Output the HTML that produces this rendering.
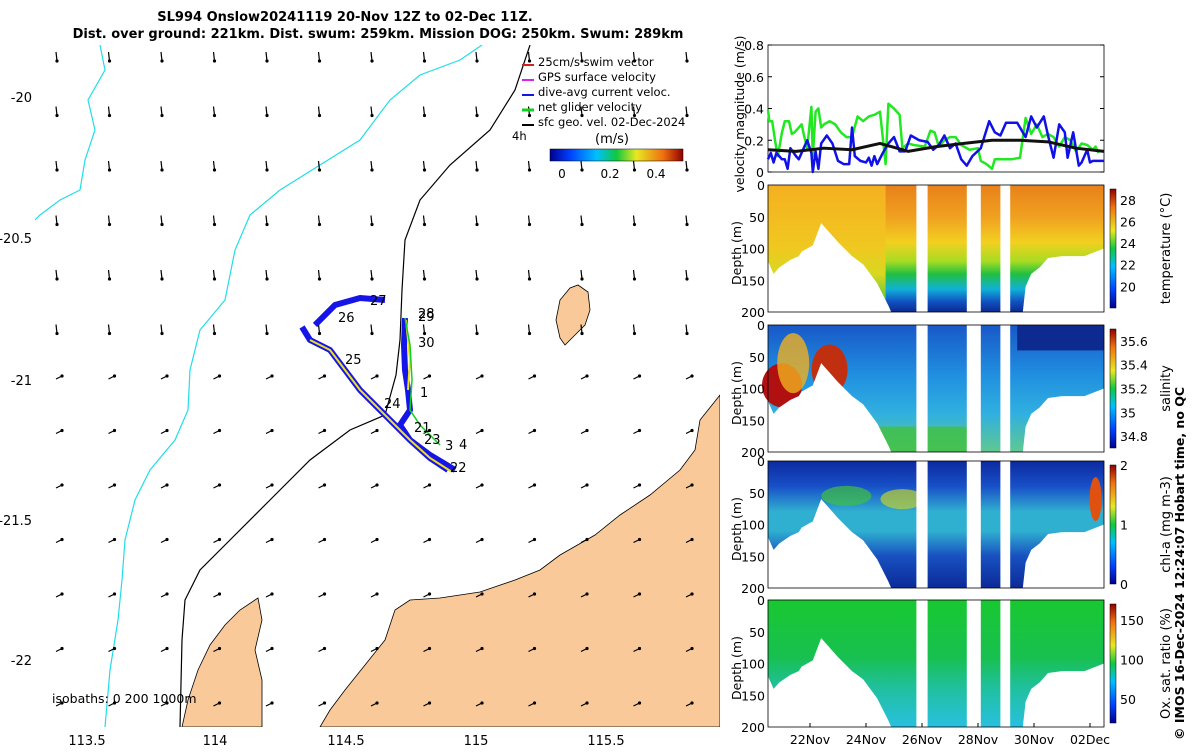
<!DOCTYPE html>
<html><head><meta charset="utf-8"><style>
body{margin:0;background:#fff;font-family:"Liberation Sans",sans-serif}
svg text{font-family:"DejaVu Sans","Liberation Sans",sans-serif}
</style></head><body>
<svg id="s" width="1200" height="750" viewBox="0 0 1200 750" xmlns="http://www.w3.org/2000/svg">
<defs>
<linearGradient id="gT" x1="0" y1="0" x2="0" y2="1"><stop offset="0" stop-color="#e8801a"/><stop offset="0.25" stop-color="#f0a020"/><stop offset="0.45" stop-color="#f2d020"/><stop offset="0.6" stop-color="#a8dc22"/><stop offset="0.7" stop-color="#22c040"/><stop offset="0.82" stop-color="#10b0d8"/><stop offset="0.92" stop-color="#1050c0"/><stop offset="1" stop-color="#0c2a90"/></linearGradient>
<linearGradient id="gTL" x1="0" y1="0" x2="0" y2="1"><stop offset="0" stop-color="#f5b020"/><stop offset="0.5" stop-color="#f0c820"/><stop offset="0.7" stop-color="#d8d820"/><stop offset="1" stop-color="#30c040"/></linearGradient>
<linearGradient id="gS" x1="0" y1="0" x2="0" y2="1"><stop offset="0" stop-color="#1858c8"/><stop offset="0.4" stop-color="#2090e0"/><stop offset="0.7" stop-color="#30b0e0"/><stop offset="1" stop-color="#60c890"/></linearGradient>
<linearGradient id="gC" x1="0" y1="0" x2="0" y2="1"><stop offset="0" stop-color="#0c2aa0"/><stop offset="0.2" stop-color="#1850c8"/><stop offset="0.4" stop-color="#30b0d0"/><stop offset="0.55" stop-color="#30b0d0"/><stop offset="0.75" stop-color="#1850c0"/><stop offset="1" stop-color="#0c2a98"/></linearGradient>
<linearGradient id="gO" x1="0" y1="0" x2="0" y2="1"><stop offset="0" stop-color="#18c830"/><stop offset="0.45" stop-color="#18c050"/><stop offset="0.7" stop-color="#20c0a0"/><stop offset="1" stop-color="#28c0e0"/></linearGradient>
<linearGradient id="jet" x1="0" y1="1" x2="0" y2="0"><stop offset="0" stop-color="#00008f"/><stop offset="0.15" stop-color="#0040ff"/><stop offset="0.35" stop-color="#00c0ff"/><stop offset="0.5" stop-color="#10c840"/><stop offset="0.65" stop-color="#e8e820"/><stop offset="0.85" stop-color="#f07010"/><stop offset="1" stop-color="#900000"/></linearGradient>
<linearGradient id="jetH" x1="0" y1="0" x2="1" y2="0"><stop offset="0" stop-color="#00008f"/><stop offset="0.15" stop-color="#0040ff"/><stop offset="0.35" stop-color="#00c0ff"/><stop offset="0.5" stop-color="#10c840"/><stop offset="0.65" stop-color="#e8e820"/><stop offset="0.85" stop-color="#f07010"/><stop offset="1" stop-color="#900000"/></linearGradient>
<clipPath id="mapclip"><rect x="35" y="45" width="685" height="682"/></clipPath>
</defs>
<g font-size="13" font-weight="bold" text-anchor="middle">
<text x="345" y="21">SL994 Onslow20241119 20-Nov 12Z to 02-Dec 11Z.</text>
<text x="378" y="38">Dist. over ground: 221km. Dist. swum: 259km. Mission DOG: 250km. Swum: 289km</text>
</g>
<!-- MAP -->
<g clip-path="url(#mapclip)">
<path fill="#f9c99a" stroke="#000" stroke-width="0.8" d="M720,395 L712,405 L700,420 L695,450 L680,470 L650,495 L620,515 L595,535 L560,555 L540,570 L515,580 L480,592 L440,598 L410,600 L395,610 L385,640 L365,665 L345,690 L330,710 L320,727 L720,727 Z"/>
<path fill="#f9c99a" stroke="#000" stroke-width="0.8" d="M258,598 L240,610 L225,625 L210,645 L198,670 L188,700 L182,727 L262,727 L262,680 L255,650 L262,620 Z"/>
<path fill="#f9c99a" stroke="#000" stroke-width="0.8" d="M578,285 L588,292 L590,310 L585,325 L575,335 L565,345 L560,338 L556,320 L560,300 L570,288 Z"/>
<path fill="none" stroke="#000" stroke-width="1.2" d="M530,45 L515,90 L490,130 L450,165 L420,200 L405,240 L402,290 L400,340 L396,375 L385,415 L350,430 L310,460 L270,500 L230,540 L200,570 L185,600 L182,640 L180,727"/>
<path fill="none" stroke="#22dde8" stroke-width="1.2" d="M482,45 L460,60 L420,75 L390,100 L360,140 L320,165 L280,190 L250,215 L235,250 L225,300 L200,330 L190,370 L188,410 L175,440 L150,470 L135,500 L125,540 L122,580 L118,620 L110,670 L105,727"/>
<path fill="none" stroke="#22dde8" stroke-width="1.2" d="M100,45 L105,70 L88,100 L95,130 L85,160 L80,190 L60,200 L40,215 L35,220"/>
<g id="arrows"></g>
<path fill="none" stroke="#1515e8" stroke-width="6" stroke-linejoin="round" d="M302,327 L310,340 L330,350 L345,370 L360,390 L375,405 L395,425 L410,440 L430,458 L448,470 M455,470 L430,455 L410,440 L400,425 L410,410 L408,390 L405,370 L404,345 L405,318 M315,325 L335,305 L360,298 L385,300"/>
<path fill="none" stroke="#f0e020" stroke-width="2" d="M310,340 L330,350 L345,370 L360,390 L375,405 L395,425 L410,440 L430,458 L452,472 M408,390 L410,360 L406,320"/>
<path fill="none" stroke="#10d020" stroke-width="1.5" d="M405,318 L410,345 L412,380 L410,410 L420,425 L440,445"/>
<g font-size="13">
<text x="338" y="322">26</text><text x="370" y="305">27</text><text x="418" y="318">28</text><text x="418" y="321">29</text>
<text x="418" y="347">30</text><text x="420" y="397">1</text><text x="345" y="364">25</text><text x="384" y="408">24</text>
<text x="414" y="432">21</text><text x="424" y="444">23</text><text x="445" y="450">3</text><text x="459" y="449">4</text><text x="450" y="472">22</text>
</g>
<text x="52" y="703" font-size="12.5">isobaths: 0   200  1000m</text>
</g>
<g font-size="13">
<text x="32" y="102" text-anchor="end">-20</text><text x="32" y="243" text-anchor="end">-20.5</text><text x="32" y="385" text-anchor="end">-21</text><text x="32" y="525" text-anchor="end">-21.5</text><text x="32" y="665" text-anchor="end">-22</text>
<g text-anchor="middle"><text x="87" y="745">113.5</text><text x="215" y="745">114</text><text x="346" y="745">114.5</text><text x="476" y="745">115</text><text x="606" y="745">115.5</text></g>
</g>
<g font-size="11.5">
<line x1="522" y1="65" x2="534" y2="65" stroke="#d02020" stroke-width="2"/><text x="538" y="66">25cm/s swim vector</text>
<line x1="522" y1="80" x2="534" y2="80" stroke="#e020e0" stroke-width="2"/><text x="538" y="81">GPS surface velocity</text>
<line x1="522" y1="95" x2="534" y2="95" stroke="#1515e8" stroke-width="2"/><text x="538" y="96">dive-avg current veloc.</text>
<line x1="522" y1="110" x2="534" y2="110" stroke="#10d020" stroke-width="3"/><text x="538" y="111">net glider velocity</text>
<line x1="522" y1="125" x2="534" y2="125" stroke="#000" stroke-width="2"/><text x="538" y="126">sfc geo. vel. 02-Dec-2024</text>
<text x="512" y="140">4h</text><text x="595" y="143" font-size="13">(m/s)</text>
<rect x="550" y="149" width="133" height="12" fill="url(#jetH)" stroke="#000" stroke-width="0.5"/>
<g text-anchor="middle" font-size="12"><text x="562" y="178">0</text><text x="610" y="178">0.2</text><text x="656" y="178">0.4</text></g>
</g>
<g id="vel"></g>
<g id="sections"></g>
<text transform="translate(1184,740) rotate(-90)" font-size="12.5" font-weight="bold">© IMOS 16-Dec-2024 12:24:07 Hobart time, no QC</text>
</svg>
<script>
// velocity data: day offsets from 20-Nov 12Z, values m/s
const greenDays=[0,0.05,0.15,0.25,0.35,0.5,0.6,0.75,0.8,0.85,0.95,1.1,1.2,1.3,1.4,1.55,1.6,1.7,1.8,1.9,2.0,2.2,2.4,2.6,2.8,3.0,3.2,3.4,3.6,3.8,4.0,4.2,4.3,4.5,4.7,4.8,5.0,5.2,5.6,5.8,5.95,6.1,6.3,6.5,6.7,6.9,7.2,7.5,7.6,7.8,8.0,8.1,8.3,8.7,9.0,9.2,9.4,9.6,9.8,10.0,10.2,10.4,10.6,10.8,11.0,11.2,11.4,11.6,11.7,11.8];
const greenVals=[0.39,0.32,0.32,0.2,0.1,0.25,0.32,0.32,0.28,0.24,0.25,0.28,0.3,0.22,0.15,0.41,0.1,0.38,0.4,0.28,0.3,0.32,0.3,0.25,0.22,0.22,0.35,0.32,0.35,0.36,0.38,0.05,0.43,0.4,0.36,0.15,0.18,0.17,0.16,0.26,0.25,0.16,0.2,0.22,0.22,0.17,0.14,0.15,0.07,0.05,0.02,0.08,0.08,0.08,0.09,0.34,0.24,0.3,0.22,0.24,0.22,0.16,0.22,0.2,0.13,0.18,0.17,0.14,0.16,0.12];
const blueDays=[0,0.1,0.2,0.3,0.4,0.5,0.6,0.7,0.8,1.0,1.1,1.3,1.4,1.55,1.6,1.7,1.8,1.9,2.1,2.3,2.5,2.7,2.9,3.0,3.1,3.3,3.5,3.6,3.7,3.8,3.9,4.1,4.3,4.5,4.7,4.9,5.1,5.4,5.7,5.9,6.1,6.3,6.5,6.7,6.9,7.1,7.3,7.6,7.9,8.1,8.3,8.5,8.9,9.2,9.4,9.6,9.85,10.0,10.2,10.4,10.6,10.7,10.9,11.1,11.2,11.4,11.5,11.6,12];
const blueVals=[0.08,0.12,0.06,0.12,0.1,0.08,0.08,0.02,0.15,0.1,0.08,0.16,0.2,0.12,0.0,0.13,0.02,0.18,0.23,0.18,0.07,0.05,0.05,0.28,0.1,0.07,0.06,0.09,0.04,0.1,0.05,0.12,0.18,0.22,0.13,0.13,0.23,0.2,0.19,0.14,0.17,0.23,0.15,0.18,0.08,0.04,0.1,0.15,0.32,0.25,0.23,0.31,0.31,0.22,0.35,0.28,0.35,0.23,0.09,0.3,0.25,0.09,0.25,0.04,0.06,0.14,0.06,0.07,0.07];
const blackDays=[0,1,2,3,4,5,6,7,8,9,10,11,12];
const blackVals=[0.14,0.13,0.15,0.14,0.18,0.13,0.16,0.18,0.2,0.2,0.19,0.15,0.13];
const velTicks=[0,0.2,0.4,0.6,0.8];
const dateLabels=["22Nov","24Nov","26Nov","28Nov","30Nov","02Dec"];
const dateTickDays=[1.5,3.5,5.5,7.5,9.5,11.5];
const depthTicks=[0,50,100,150,200];

const NS='http://www.w3.org/2000/svg';
function mk(tag,attrs,parent){const e=document.createElementNS(NS,tag);for(const k in attrs)e.setAttribute(k,attrs[k]);parent.appendChild(e);return e;}
const X0=768,X1=1104;
const xd=d=>X0+d*(X1-X0)/12;

// map arrows (short, with a heavy head)
const ag=document.getElementById('arrows');
for(let i=0;i<13;i++)for(let j=0;j<13;j++){
  const x=56+i*52.5,y=52+j*54.5;
  const dx=j<6?1:6, dy=j<6?9:-3;
  const a=mk('line',{x1:x,y1:y,x2:x+dx,y2:y+dy,stroke:'#000','stroke-width':1.2},ag);
  
  
  mk('circle',{cx:x+dx,cy:y+dy,r:1.6,fill:'#000'},ag);
}

// velocity panel
const vel=document.getElementById('vel');
const VY0=172,VY1=45;
const yv=v=>VY0-v*(VY0-VY1)/0.8;
mk('rect',{x:X0,y:VY1,width:X1-X0,height:VY0-VY1,fill:'#fff',stroke:'#000','stroke-width':0.8},vel);
velTicks.forEach(t=>{const tx=mk('text',{x:X0-4,y:yv(t)+5,'font-size':12.5,'text-anchor':'end'},vel);tx.textContent=t;
 mk('line',{x1:X0,x2:X0+4,y1:yv(t),y2:yv(t),stroke:'#000'},vel);mk('line',{x1:X1,x2:X1-4,y1:yv(t),y2:yv(t),stroke:'#000'},vel);});
const vl=mk('text',{transform:'translate(744,114) rotate(-90)','font-size':12.5,'text-anchor':'middle'},vel);vl.textContent='velocity magnitude (m/s)';


function line(days,vals,col,w,name){const p=mk('polyline',{points:days.map((d,i)=>xd(d)+','+yv(vals[i])).join(' '),fill:'none',stroke:col,'stroke-width':w,'stroke-linejoin':'round'},vel);
 
 }
line(greenDays,greenVals,'#22e822',2.5,'net-glider-velocity-line');
line(blueDays,blueVals,'#1010e8',2.5,'dive-avg-current-line');
line(blackDays,blackVals,'#111',3,'surface-geo-velocity-line');

// sections
const sec=document.getElementById('sections');
const panels=[
 {y0:185,grad:'gT',name:'temperature',label:'temperature (°C)',cb:[20,22,24,26,28],cmin:18,cmax:29},
 {y0:325,grad:'gS',name:'salinity',label:'salinity',cb:[34.8,35,35.2,35.4,35.6],cmin:34.7,cmax:35.7},
 {y0:461,grad:'gC',name:'chlorophyll',label:'chl-a (mg m-3)',cb:[0,1,2],cmin:0,cmax:2},
 {y0:600,grad:'gO',name:'oxygen-saturation',label:'Ox. sat. ratio (%)',cb:[50,100,150],cmin:20,cmax:170}];
const bottomD=[[0,120],[0.2,140],[0.4,130],[0.8,118],[1.1,112],[1.2,105],[1.6,95],[1.9,60],[2.5,90],[3.0,112],[3.4,125],[3.9,155],[4.3,190],[4.4,200],[9.1,200],[9.2,160],[9.4,140],[9.7,130],[10,115],[10.5,112],[11.3,112],[12,100]];
const gaps=[[5.3,5.7],[7.1,7.6],[8.3,8.65]];
panels.forEach((p,pi)=>{
 const g=mk('g',{},sec);
 
 
 const H=127, yd=d=>p.y0+d*H/200;
 mk('rect',{x:X0,y:p.y0,width:X1-X0,height:H,fill:'url(#'+p.grad+')'},g);
 if(pi==0) mk('rect',{x:X0,y:p.y0,width:xd(4.2)-X0,height:H,fill:'url(#gTL)'},g);
 if(pi==1){mk('ellipse',{cx:xd(0.5),cy:yd(95),rx:20,ry:22,fill:'#b01010'},g);mk('ellipse',{cx:xd(0.9),cy:yd(60),rx:16,ry:30,fill:'#f0b020',opacity:0.8},g);
  mk('ellipse',{cx:xd(2.2),cy:yd(70),rx:18,ry:25,fill:'#c03010'},g);mk('rect',{x:xd(8.9),y:p.y0,width:xd(12)-xd(8.9),height:yd(40)-p.y0,fill:'#0c2a90'},g);
  mk('rect',{x:xd(3.8),y:yd(160),width:xd(7.2)-xd(3.8),height:yd(200)-yd(160),fill:'#40c040',opacity:0.8},g);}
 if(pi==2){mk('ellipse',{cx:xd(11.7),cy:yd(60),rx:6,ry:22,fill:'#e05010'},g);mk('ellipse',{cx:xd(2.8),cy:yd(55),rx:25,ry:10,fill:'#40c040',opacity:0.7},g);mk('ellipse',{cx:xd(4.8),cy:yd(60),rx:22,ry:10,fill:'#c0d030',opacity:0.7},g);}
 const pts=bottomD.map(b=>xd(b[0])+','+yd(b[1])).join(' ');
 mk('polygon',{points:xd(0)+','+yd(200.5)+' '+pts+' '+xd(12)+','+yd(200.5),fill:'#fff'},g);
 gaps.forEach(gp=>mk('rect',{x:xd(gp[0]),y:p.y0-1,width:xd(gp[1])-xd(gp[0]),height:H+2,fill:'#fff'},g));
 mk('rect',{x:X0,y:p.y0,width:X1-X0,height:H,fill:'none',stroke:'#000','stroke-width':0.8},g);
 depthTicks.forEach(t=>{const tx=mk('text',{x:X0-3,y:yd(t)+5,'font-size':12.5,'text-anchor':'end'},g);tx.textContent=t;});
 const dl=mk('text',{transform:'translate(741,'+(p.y0+100)+') rotate(-90)','font-size':12.5},g);dl.textContent='Depth (m)';
 const cx=1110,cy0=p.y0+4,ch=H-8,yc=v=>cy0+ch-(v-p.cmin)/(p.cmax-p.cmin)*ch;
 const cbr=mk('rect',{x:cx,y:cy0,width:6,height:ch,fill:'url(#jet)',stroke:'#000','stroke-width':0.5},g);
 
 
 p.cb.forEach(v=>{const tx=mk('text',{x:1120,y:yc(v)+5,'font-size':12.5},g);tx.textContent=v;});
 const lb=mk('text',{transform:'translate(1170,'+(p.y0+H/2)+') rotate(-90)','font-size':13,'text-anchor':'middle'},g);lb.textContent=p.label;
});
dateLabels.forEach((l,i)=>{const x=xd(dateTickDays[i]);
 mk('line',{x1:x,x2:x,y1:727,y2:723,stroke:'#000'},sec);
 const tx=mk('text',{x:x,y:744,'font-size':12.5,'text-anchor':'middle'},sec);tx.textContent=l;
 
 });
</script>
</body></html>
